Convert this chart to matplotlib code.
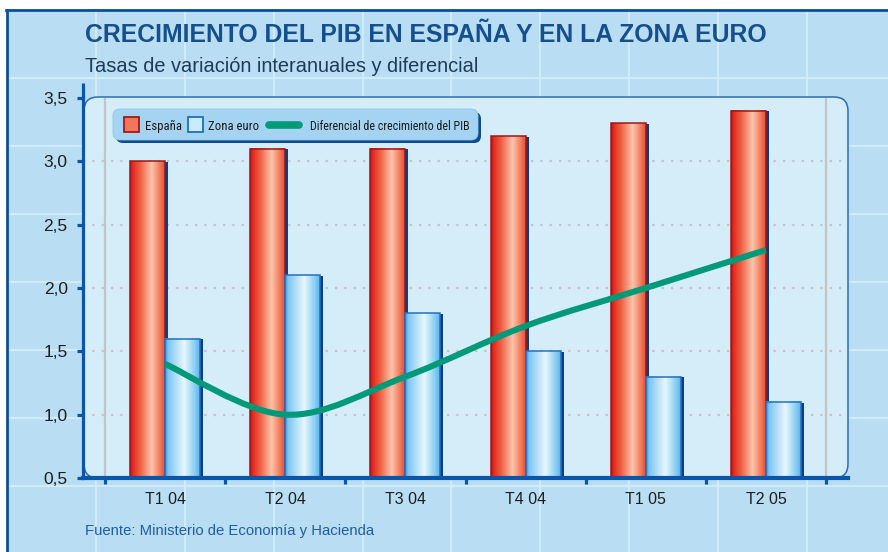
import numpy as np
import matplotlib
matplotlib.use("Agg")
import matplotlib.pyplot as plt
from matplotlib.patches import FancyBboxPatch, Rectangle, PathPatch
from matplotlib.path import Path
from matplotlib.lines import Line2D
from matplotlib.transforms import Affine2D
from matplotlib import font_manager, colors as mcolors

# ---------------- data ----------------
categories = ["T1 04", "T2 04", "T3 04", "T4 04", "T1 05", "T2 05"]
espana = [3.0, 3.1, 3.1, 3.2, 3.3, 3.4]
zona_euro = [1.6, 2.1, 1.8, 1.5, 1.3, 1.1]
diferencial = [1.4, 1.0, 1.3, 1.7, 2.0, 2.3]
yticks = [0.5, 1.0, 1.5, 2.0, 2.5, 3.0, 3.5]
ytick_labels = ["0,5", "1,0", "1,5", "2,0", "2,5", "3,0", "3,5"]
legend_labels = ["España", "Zona euro", "Diferencial de crecimiento del PIB"]
title = "CRECIMIENTO DEL PIB EN ESPAÑA Y EN LA ZONA EURO"
subtitle = "Tasas de variación interanuales y diferencial"
source = "Fuente: Ministerio de Economía y Hacienda"

# ---------------- fonts ----------------
names = {f.name for f in font_manager.fontManager.ttflist}
MAIN = "Liberation Sans" if "Liberation Sans" in names else "DejaVu Sans"
NARROW = MAIN
for cand in ["Liberation Sans Narrow", "Arial Narrow", "Roboto Condensed", "Archivo Narrow",
             "Barlow Semi Condensed"]:
    if cand in names:
        NARROW = cand
        break
plt.rcParams["font.family"] = [MAIN, "DejaVu Sans"]

W, H = 888, 552
fig = plt.figure(figsize=(W / 100, H / 100), dpi=100, facecolor="white")
T = Affine2D().scale(1 / fig.dpi) + fig.dpi_scale_trans  # pixel coords (origin bottom-left)


def P(x, y):
    return (x, H - y)


# ---------------- background ----------------
bg = Rectangle(P(6, 552), W - 6, 552 - 9, transform=T, fc="#b9def3", ec="none", zorder=-20)
fig.add_artist(bg)
grid_c = "#d3edfa"
for gx in np.arange(7.4, W, 88.8):
    fig.add_artist(Line2D([gx, gx], [0, H - 10], transform=T, color=grid_c, lw=1.3, zorder=-19))
for gy in np.arange(78, H, 68):
    fig.add_artist(Line2D([7, W], [H - gy, H - gy], transform=T, color=grid_c, lw=1.3, zorder=-19))
fig.add_artist(Line2D([6, W], [H - 9.5, H - 9.5], transform=T, color="#0e4f9a", lw=2.0, zorder=-18))
fig.add_artist(Line2D([7, 7], [0, H - 9.5], transform=T, color="#0e4f9a", lw=2.0, zorder=-18))

# inner panel
panel = FancyBboxPatch(P(84, 478), 848 - 84, 478 - 97,
                       boxstyle="round,pad=0,rounding_size=14", transform=T,
                       fc="#d5ecf9", ec="#2a6db5", lw=1.1, zorder=-5)
fig.add_artist(panel)

# ---------------- axes ----------------
AX_L, AX_R, AX_T, AX_B = 83, 848, 98, 478
ax = fig.add_axes([AX_L / W, 1 - AX_B / H, (AX_R - AX_L) / W, (AX_B - AX_T) / H])
ax.set_facecolor("none")
pxu = 120.17  # pixels per category unit
xmin = -0.5 - (105 - AX_L) / pxu
xmax = 5.5 + (AX_R - 826) / pxu

axis_c = "#0b56a8"
for s in ["top", "right"]:
    ax.spines[s].set_visible(False)
ax.spines["left"].set_color(axis_c)
ax.spines["left"].set_linewidth(2.3)
ax.spines["bottom"].set_color(axis_c)
ax.spines["bottom"].set_linewidth(3.0)
ax.plot([xmin, xmin], [3.5, 3.5 + 15 / 126.7], color=axis_c, lw=2.3, clip_on=False,
        solid_capstyle="butt", zorder=6)

# grid lines
for yv in yticks[1:-1]:
    ax.axhline(yv, color="#c2c2c2", lw=1.6, linestyle=(0, (1, 3.2)), zorder=1)
for xv in (-0.5, 5.5):
    ax.axvline(xv, color="#c4c4c4", lw=1.6, zorder=1)


def gradient(stops, n=64):
    pos = [s[0] for s in stops]
    cols = np.array([mcolors.to_rgb(s[1]) for s in stops])
    xs = np.linspace(0, 1, n)
    return np.stack([np.interp(xs, pos, cols[:, k]) for k in range(3)], axis=-1)[np.newaxis]


red_grad = gradient([(0, "#b31a1a"), (0.07, "#e32b20"), (0.28, "#ef5d42"),
                     (0.62, "#fcc5ab"), (0.86, "#f27b5c"), (1.0, "#e84d34")])
blue_grad = gradient([(0, "#3b8fd8"), (0.08, "#7cc5f1"), (0.55, "#e8f7fe"),
                      (0.85, "#8dd0f4"), (1.0, "#5db5ec")])

bw = 35 / pxu
sh = 3 / pxu
x = np.arange(len(categories))
for i in x:
    # Spain bar
    v = espana[i]
    x0 = i - bw
    ax.add_patch(Rectangle((x0 + bw, 0.5), sh, v - 0.5 - 0.005, fc="#0a3f86", ec="none", zorder=2.0))
    ax.imshow(red_grad, extent=(x0, x0 + bw, 0.5, v), aspect="auto",
              interpolation="bilinear", zorder=2.1)
    ax.add_patch(Rectangle((x0, 0.5), bw, v - 0.5, fill=False, ec="#a0161a", lw=1.1, zorder=2.2))
    # Euro zone bar
    v = zona_euro[i]
    x0 = i
    ax.add_patch(Rectangle((x0 + bw, 0.5), sh, v - 0.5 - 0.005, fc="#0a3f86", ec="none", zorder=2.3))
    ax.imshow(blue_grad, extent=(x0, x0 + bw, 0.5, v), aspect="auto",
              interpolation="bilinear", zorder=2.4)
    ax.add_patch(Rectangle((x0, 0.5), bw, v - 0.5, fill=False, ec="#2372c0", lw=1.1, zorder=2.5))

# smoothed differential line (Catmull-Rom drawn as cubic Bezier path)
pts = np.column_stack([x, diferencial]).astype(float)
ext = np.vstack([pts[0], pts, pts[-1]])
verts = [tuple(pts[0])]
codes = [Path.MOVETO]
for k in range(len(pts) - 1):
    p0, p1, p2, p3 = ext[k], ext[k + 1], ext[k + 2], ext[k + 3]
    c1 = p1 + (p2 - p0) / 6
    c2 = p2 - (p3 - p1) / 6
    verts += [tuple(c1), tuple(c2), tuple(p2)]
    codes += [Path.CURVE4] * 3
ax.add_patch(PathPatch(Path(verts, codes), fill=False, ec="#009a78", lw=4.4,
                       capstyle="butt", zorder=5))

ax.set_xlim(xmin, xmax)
ax.set_ylim(0.5, 3.5)

# ticks
ax.set_yticks(yticks)
ax.set_yticklabels(ytick_labels)
ax.tick_params(axis="y", direction="out", length=4, width=2.3, color=axis_c,
               labelsize=12.5, labelcolor="#1e1e1e", pad=7)
ax.set_xticks(np.arange(-0.5, 6.0, 1.0))
ax.set_xticklabels([])
ax.tick_params(axis="x", which="major", direction="out", length=4.5, width=2.3, color=axis_c)
ax.set_xticks(x, minor=True)
ax.set_xticklabels(categories, minor=True)
ax.tick_params(axis="x", which="minor", length=0, labelsize=11.5, labelcolor="#1e1e1e", pad=10)

# ---------------- legend ----------------
fig.add_artist(FancyBboxPatch(P(116, 143), 365, 31, boxstyle="round,pad=0,rounding_size=7",
                              transform=T, fc="#0d4a92", ec="none", zorder=7))
fig.add_artist(FancyBboxPatch(P(113, 140), 365, 31, boxstyle="round,pad=0,rounding_size=7",
                              transform=T, fc="#a5d4f2", ec="#8cc4ea", lw=0.6, zorder=7.1))
fig.add_artist(Rectangle(P(124, 132), 15, 15, transform=T, fc="#f27657", ec="#a3161b", lw=1.3, zorder=8))
fig.add_artist(Rectangle(P(188, 132), 15, 15, transform=T, fc="#cbeafb", ec="#1f6fc0", lw=1.3, zorder=8))
fig.add_artist(Line2D([269, 299], [H - 125, H - 125], transform=T, color="#009a78", lw=5.5,
                      solid_capstyle="round", zorder=8))

renderer = fig.canvas.get_renderer()


def fit_text(xp, yp, s, width, size, **kw):
    t = fig.text(xp / W, 1 - yp / H, s, fontsize=size, **kw)
    w = t.get_window_extent(renderer).width
    t.set_fontsize(size * width / w)
    return t


leg_kw = dict(family=[NARROW, "DejaVu Sans"], color="#1a1a1a", va="baseline", zorder=9)
fit_text(145, 130, legend_labels[0], 37, 9, **leg_kw)
fit_text(208, 130, legend_labels[1], 51, 9, **leg_kw)
fit_text(310, 130.5, legend_labels[2], 161, 9, **leg_kw)

# ---------------- titles ----------------
fit_text(85, 41.7, title, 686, 17, weight="bold", color="#164f8d", va="baseline")
fit_text(85, 71.5, subtitle, 394, 12, color="#1e3a5c", va="baseline")
fit_text(85, 535, source, 289, 10, color="#1f5ea6", va="baseline")

fig.savefig("out.png", dpi=100, facecolor=fig.get_facecolor())
